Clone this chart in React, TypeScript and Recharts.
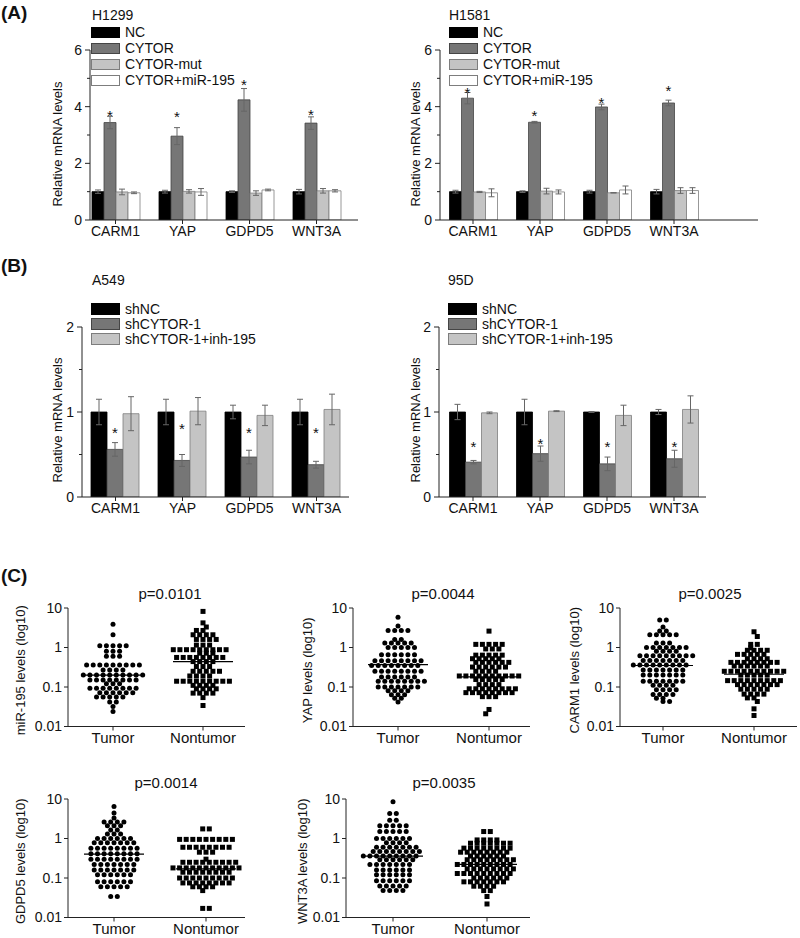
import React from 'react';
import {
  BarChart, Bar, XAxis, YAxis, ErrorBar, LabelList,
  ScatterChart, Scatter, ReferenceLine,
} from 'recharts';

const FONT = '"Liberation Sans", Arial, Helvetica, sans-serif';
const AXIS = '#222';
const TXT = '#111';

// ---------------- Panel A ----------------
const genes = ['CARM1', 'YAP', 'GDPD5', 'WNT3A'];

const h1299NC = [1, 1, 1, 1];
const h1299NCErr = [0.06, 0.05, 0.03, 0.08];
const h1299CYTOR = [3.44, 2.96, 4.24, 3.42];
const h1299CYTORErr = [0.22, 0.3, 0.4, 0.22];
const h1299Mut = [0.99, 1.01, 0.95, 1.03];
const h1299MutErr = [0.1, 0.06, 0.08, 0.08];
const h1299MiR = [0.96, 0.99, 1.06, 1.03];
const h1299MiRErr = [0.03, 0.12, 0.03, 0.04];
const h1299Star = [3.8, 3.75, 4.88, 3.82];

const h1581NC = [1, 1, 1, 1];
const h1581NCErr = [0.05, 0.03, 0.05, 0.08];
const h1581CYTOR = [4.3, 3.45, 3.99, 4.13];
const h1581CYTORErr = [0.2, 0.03, 0.1, 0.1];
const h1581Mut = [0.99, 1.02, 0.96, 1.04];
const h1581MutErr = [0.02, 0.1, 0.005, 0.1];
const h1581MiR = [0.96, 0.99, 1.06, 1.04];
const h1581MiRErr = [0.14, 0.07, 0.14, 0.1];
const h1581Star = [4.6, 3.78, 4.27, 4.68];

const legendA = ['NC', 'CYTOR', 'CYTOR-mut', 'CYTOR+miR-195'];

// ---------------- Panel B ----------------
const a549NC = [1, 1, 1, 1];
const a549NCErr = [0.15, 0.15, 0.08, 0.15];
const a549Sh = [0.56, 0.43, 0.47, 0.38];
const a549ShErr = [0.08, 0.07, 0.08, 0.04];
const a549Inh = [0.98, 1.01, 0.96, 1.03];
const a549InhErr = [0.2, 0.16, 0.12, 0.18];
const a549Star = [0.79, 0.84, 0.8, 0.8];

const d95NC = [1, 1, 1, 1];
const d95NCErr = [0.09, 0.15, 0.005, 0.03];
const d95Sh = [0.41, 0.51, 0.39, 0.45];
const d95ShErr = [0.02, 0.09, 0.08, 0.1];
const d95Inh = [0.99, 1.01, 0.96, 1.03];
const d95InhErr = [0.01, 0.005, 0.12, 0.16];
const d95Star = [0.63, 0.66, 0.63, 0.63];

const legendB = ['shNC', 'shCYTOR-1', 'shCYTOR-1+inh-195'];

// ---------------- Panel C ----------------
const groupNames = ['Tumor', 'Nontumor'];

const mirTumor = [
  3.9, 2.1,
  1.1, 1.1, 1.1, 1.1, 1.1,
  0.8, 0.8, 0.8,
  0.6, 0.6, 0.6,
  0.36, 0.36, 0.36, 0.36, 0.36, 0.36, 0.36, 0.36, 0.36,
  0.27, 0.27, 0.27, 0.27,
  0.2, 0.2, 0.2, 0.2, 0.2, 0.2, 0.2, 0.2, 0.2, 0.2,
  0.15, 0.15, 0.15, 0.15, 0.15, 0.15, 0.15, 0.15,
  0.12, 0.12, 0.12,
  0.093, 0.093, 0.093, 0.093, 0.093, 0.093, 0.093, 0.093,
  0.072, 0.072, 0.072, 0.072, 0.072, 0.072,
  0.056, 0.056, 0.056, 0.056, 0.056,
  0.042, 0.042,
  0.032, 0.024,
];
const mirNontumor = [
  8.2, 4.2, 3.3,
  2.7, 2.7,
  2.1, 2.1, 2.1, 2.1,
  1.6, 1.6, 1.6, 1.6,
  1.15, 1.15, 1.15,
  0.88, 0.88, 0.88, 0.88, 0.88, 0.88, 0.88, 0.88, 0.88,
  0.72, 0.72, 0.72,
  0.56, 0.56, 0.56, 0.56, 0.56, 0.56, 0.56, 0.56,
  0.44, 0.44, 0.44, 0.44,
  0.33, 0.33, 0.33,
  0.25, 0.25, 0.25, 0.25, 0.25,
  0.19, 0.19, 0.19, 0.19,
  0.14, 0.14, 0.14, 0.14, 0.14, 0.14, 0.14, 0.14, 0.14,
  0.11, 0.11, 0.11, 0.11,
  0.09, 0.09, 0.09, 0.09,
  0.07, 0.07, 0.07, 0.07,
  0.054, 0.034,
];
const mirMedians = [0.2, 0.44];

const yapTumor = [
  5.8, 3.5,
  2.7, 2.7, 2.7, 2.7,
  1.6, 1.6,
  1.3, 1.3, 1.3, 1.3, 1.3,
  1.0, 1.0, 1.0, 1.0, 1.0,
  0.66, 0.66, 0.66, 0.66, 0.66, 0.66,
  0.46, 0.46, 0.46, 0.46, 0.46, 0.46, 0.46, 0.46,
  0.35, 0.35, 0.35, 0.35, 0.35, 0.35, 0.35, 0.35,
  0.25, 0.25, 0.25, 0.25, 0.25, 0.25, 0.25, 0.25,
  0.18, 0.18, 0.18, 0.18, 0.18, 0.18,
  0.14, 0.14, 0.14, 0.14, 0.14, 0.14, 0.14, 0.14,
  0.1, 0.1, 0.1, 0.1, 0.1, 0.1, 0.1,
  0.08, 0.08, 0.08, 0.08,
  0.064, 0.064, 0.064,
  0.052, 0.052,
  0.042,
];
const yapNontumor = [
  2.6,
  1.2, 1.2, 1.2, 1.2, 1.2,
  0.92, 0.92, 0.92,
  0.64, 0.64, 0.64, 0.64, 0.64,
  0.52, 0.52, 0.52, 0.52, 0.52,
  0.42, 0.42, 0.42, 0.42, 0.42, 0.42,
  0.32, 0.32, 0.32, 0.32, 0.32, 0.32,
  0.25, 0.25, 0.25, 0.25,
  0.19, 0.19, 0.19, 0.19, 0.19, 0.19, 0.19, 0.19, 0.19, 0.19,
  0.155, 0.155, 0.155, 0.155, 0.155,
  0.115, 0.115, 0.115, 0.115,
  0.09, 0.09, 0.09, 0.09, 0.09, 0.09, 0.09, 0.09,
  0.072, 0.072, 0.072, 0.072, 0.072, 0.072, 0.072, 0.072,
  0.057, 0.057, 0.057,
  0.027, 0.021,
];
const yapMedians = [0.37, 0.18];

const carmTumor = [
  5.0, 5.0, 3.3,
  2.6, 2.6,
  2.1, 2.1, 2.1, 2.1, 2.1,
  1.3, 1.3, 1.3,
  1.0, 1.0, 1.0, 1.0, 1.0, 1.0, 1.0,
  0.8, 0.8, 0.8, 0.8,
  0.62, 0.62, 0.62, 0.62, 0.62, 0.62, 0.62, 0.62, 0.62,
  0.47, 0.47, 0.47, 0.47, 0.47, 0.47, 0.47,
  0.36, 0.36, 0.36, 0.36, 0.36, 0.36, 0.36, 0.36, 0.36,
  0.27, 0.27, 0.27, 0.27, 0.27, 0.27, 0.27,
  0.2, 0.2, 0.2, 0.2, 0.2, 0.2, 0.2,
  0.14, 0.14, 0.14, 0.14, 0.14, 0.14, 0.14,
  0.11, 0.11, 0.11, 0.11,
  0.085, 0.085, 0.085, 0.085,
  0.065, 0.065, 0.065, 0.065,
  0.052, 0.052,
  0.043, 0.043,
];
const carmNontumor = [
  2.5, 1.9,
  1.2, 1.2,
  0.98,
  0.85, 0.85, 0.85, 0.85,
  0.67, 0.67, 0.67, 0.67, 0.67,
  0.52, 0.52, 0.52, 0.52,
  0.42, 0.42, 0.42, 0.42, 0.42, 0.42, 0.42, 0.42,
  0.34, 0.34, 0.34, 0.34, 0.34, 0.34,
  0.25, 0.25, 0.25, 0.25, 0.25, 0.25, 0.25, 0.25, 0.25, 0.25,
  0.2, 0.2, 0.2, 0.2, 0.2,
  0.145, 0.145, 0.145, 0.145, 0.145, 0.145, 0.145, 0.145, 0.145,
  0.115, 0.115, 0.115, 0.115, 0.115, 0.115, 0.115,
  0.088, 0.088, 0.088, 0.088, 0.088,
  0.066, 0.066, 0.066, 0.066,
  0.053, 0.053,
  0.043, 0.028, 0.019,
];
const carmMedians = [0.35, 0.21];

const gdpTumor = [
  6.5, 4.4, 3.3,
  2.6, 2.6, 2.6, 2.6,
  2.1, 2.1, 2.1,
  1.65, 1.65,
  1.3, 1.3, 1.3,
  1.0, 1.0, 1.0, 1.0, 1.0, 1.0,
  0.78, 0.78, 0.78, 0.78, 0.78, 0.78, 0.78,
  0.57, 0.57, 0.57, 0.57, 0.57, 0.57, 0.57, 0.57,
  0.41, 0.41, 0.41, 0.41, 0.41, 0.41, 0.41, 0.41,
  0.3, 0.3, 0.3, 0.3, 0.3, 0.3, 0.3, 0.3,
  0.22, 0.22, 0.22, 0.22, 0.22, 0.22, 0.22,
  0.16, 0.16, 0.16, 0.16, 0.16, 0.16, 0.16,
  0.12, 0.12, 0.12, 0.12, 0.12, 0.12,
  0.08, 0.08, 0.08, 0.08, 0.08, 0.08,
  0.06, 0.06, 0.06, 0.06, 0.06,
  0.034, 0.034,
];
const gdpNontumor = [
  1.75, 1.75,
  0.95, 0.95, 0.95, 0.95, 0.95, 0.95, 0.95, 0.95, 0.95,
  0.6, 0.6, 0.6, 0.6, 0.6, 0.6, 0.6, 0.6,
  0.45, 0.45, 0.45,
  0.3,
  0.25, 0.25, 0.25, 0.25, 0.25, 0.25, 0.25, 0.25, 0.25,
  0.18, 0.18, 0.18, 0.18, 0.18, 0.18, 0.18, 0.18, 0.18, 0.18, 0.18,
  0.14, 0.14, 0.14, 0.14, 0.14, 0.14, 0.14, 0.14,
  0.1, 0.1, 0.1, 0.1, 0.1, 0.1, 0.1, 0.1, 0.1,
  0.075, 0.075, 0.075, 0.075, 0.075, 0.075, 0.075, 0.075,
  0.06, 0.06, 0.06, 0.06,
  0.048,
  0.017, 0.017,
];
const gdpMedians = [0.4, 0.17];

const wntTumor = [
  8.5,
  4.3, 4.3,
  2.9, 2.9,
  2.1, 2.1, 2.1, 2.1, 2.1,
  1.5, 1.5, 1.5, 1.5, 1.5,
  1.0, 1.0, 1.0, 1.0, 1.0, 1.0,
  0.78, 0.78, 0.78, 0.78,
  0.6, 0.6, 0.6, 0.6, 0.6, 0.6, 0.6,
  0.47, 0.47, 0.47, 0.47, 0.47, 0.47, 0.47, 0.47,
  0.36, 0.36, 0.36, 0.36, 0.36, 0.36, 0.36, 0.36, 0.36,
  0.29, 0.29, 0.29, 0.29, 0.29, 0.29,
  0.22, 0.22, 0.22, 0.22, 0.22, 0.22, 0.22,
  0.16, 0.16, 0.16, 0.16, 0.16, 0.16,
  0.12, 0.12, 0.12, 0.12, 0.12, 0.12,
  0.085, 0.085, 0.085, 0.085, 0.085, 0.085,
  0.063, 0.063, 0.063, 0.063, 0.063,
  0.048, 0.048, 0.048, 0.048,
];
const wntNontumor = [
  1.5, 1.5,
  0.92, 0.92, 0.92, 0.92,
  0.76, 0.76, 0.76, 0.76, 0.76, 0.76, 0.76,
  0.57, 0.57, 0.57, 0.57, 0.57, 0.57, 0.57, 0.57,
  0.45, 0.45, 0.45, 0.45, 0.45, 0.45, 0.45, 0.45,
  0.36, 0.36, 0.36, 0.36, 0.36, 0.36,
  0.29, 0.29, 0.29, 0.29, 0.29, 0.29, 0.29, 0.29,
  0.22, 0.22, 0.22, 0.22, 0.22, 0.22, 0.22, 0.22, 0.22,
  0.17, 0.17, 0.17, 0.17, 0.17, 0.17, 0.17, 0.17,
  0.13, 0.13, 0.13, 0.13, 0.13, 0.13, 0.13, 0.13, 0.13,
  0.1, 0.1, 0.1, 0.1, 0.1, 0.1,
  0.08, 0.08, 0.08, 0.08, 0.08, 0.08, 0.08,
  0.062, 0.062, 0.062, 0.062,
  0.048, 0.048,
  0.034, 0.022,
];
const wntMedians = [0.36, 0.22];

const logTicks = [0.01, 0.1, 1, 10];

// ---------------- helpers ----------------
type Series = { name: string; fill: string; stroke: string; values: number[]; errs: number[] };

function Txt(p: { x: number; cy: number; size: number; bold?: boolean; center?: boolean; children: React.ReactNode }) {
  return (
    <div
      style={{
        position: 'absolute', left: p.x, top: p.cy - 0.49 * p.size, fontSize: p.size, lineHeight: 1,
        fontFamily: FONT, fontWeight: p.bold ? 700 : 400, color: TXT, whiteSpace: 'nowrap',
        transform: p.center ? 'translateX(-50%)' : undefined,
      }}
    >
      {p.children}
    </div>
  );
}

function Legend(p: { x: number; y0: number; pitch: number; swH: number; series: Series[] }) {
  return (
    <>
      {p.series.map((s, i) => {
        const cy = p.y0 + i * p.pitch;
        return (
          <React.Fragment key={s.name}>
            <div
              style={{
                position: 'absolute', left: p.x, top: cy - p.swH / 2, width: 29, height: p.swH,
                background: s.fill, border: `1px solid ${s.stroke}`, boxSizing: 'border-box',
              }}
            />
            <Txt x={p.x + 34} cy={cy} size={14}>{s.name}</Txt>
          </React.Fragment>
        );
      })}
    </>
  );
}

const TICK_SIZE = 5;
const TICK_MARGIN = 3;

function makeYTick(isMajor: (v: number) => boolean) {
  return (p: any) => {
    const v = p.payload.value;
    const ax = p.x + TICK_SIZE + TICK_MARGIN;
    const major = isMajor(v);
    return (
      <g>
        <line x1={ax} x2={ax - (major ? 5 : 3)} y1={p.y} y2={p.y} stroke={AXIS} strokeWidth={1} />
        {major && (
          <text x={p.x} y={p.y} textAnchor="end" dominantBaseline="central" fontSize={14} fill={TXT} fontFamily={FONT}>
            {String(v)}
          </text>
        )}
      </g>
    );
  };
}

function makeYLabel(text: string, offset: number, dy: number, size: number) {
  return (p: any) => {
    const vb = p.viewBox;
    const cx = vb.x + offset;
    const cy = vb.y + vb.height / 2 + dy;
    return (
      <text
        x={cx} y={cy} transform={`rotate(-90 ${cx} ${cy})`} textAnchor="middle" dominantBaseline="central"
        fontSize={size} fill={TXT} fontFamily={FONT}
      >
        {text}
      </text>
    );
  };
}

const renderStar = (p: any) => {
  const vb = p.viewBox || p;
  const ratio = Number(p.value);
  if (!vb || !isFinite(ratio)) return null;
  const sy = vb.y + vb.height - ratio * vb.height;
  return (
    <text x={vb.x + vb.width / 2} y={sy + 8.5} textAnchor="middle" fontSize={15} fill={TXT} fontFamily={FONT}>
      *
    </text>
  );
};

function BarPanel(p: {
  left: number; top: number; width: number; height: number;
  axisX: number; endX: number; plotTop: number; plotBottom: number; firstCenter: number; spacing: number;
  yMax: number; yTicks: number[]; isMajor: (v: number) => boolean;
  series: Series[]; starSeries: number; stars: number[]; barSize: number; labelX: number; labelDy: number;
}) {
  const margin = { top: p.plotTop - p.top, right: p.left + p.width - p.endX, bottom: p.top + p.height - p.plotBottom - 30, left: 0 };
  const d0 = 1 - (p.firstCenter - p.axisX) / p.spacing;
  const d1 = 1 + (p.endX - p.firstCenter) / p.spacing;
  const data = genes.map((g, i) => {
    const row: any = { pos: i + 1, gene: g };
    p.series.forEach((s, k) => {
      row['v' + k] = s.values[i];
      row['e' + k] = s.errs[i];
    });
    row.starRatio = p.stars[i] / p.series[p.starSeries].values[i];
    return row;
  });
  return (
    <div style={{ position: 'absolute', left: p.left, top: p.top }}>
      <BarChart width={p.width} height={p.height} data={data} margin={margin} barGap={0}>
        <XAxis
          type="number" dataKey="pos" domain={[d0, d1]} allowDataOverflow ticks={[1, 2, 3, 4]} interval={0}
          tickFormatter={(v: number) => genes[Math.round(v) - 1] ?? ''} height={30} tickSize={4} tickMargin={2}
          axisLine={{ stroke: AXIS }} tickLine={{ stroke: AXIS }}
          tick={{ fontSize: 14, fill: TXT, fontFamily: FONT }}
        />
        <YAxis
          type="number" domain={[0, p.yMax]} allowDataOverflow ticks={p.yTicks} interval={0}
          width={p.axisX - p.left} tickSize={TICK_SIZE} tickMargin={TICK_MARGIN}
          axisLine={{ stroke: AXIS }} tickLine={false} tick={makeYTick(p.isMajor)}
          label={makeYLabel('Relative mRNA levels', p.labelX - p.left, p.labelDy, 13)}
        />
        {p.series.map((s, k) => (
          <Bar
            key={s.name} dataKey={'v' + k} name={s.name} fill={s.fill} stroke={s.stroke} strokeWidth={0.8}
            barSize={p.barSize} isAnimationActive={false}
          >
            <ErrorBar dataKey={'e' + k} width={3} stroke="#666" strokeWidth={1} direction="y" />
            {k === p.starSeries && <LabelList dataKey="starRatio" content={renderStar} />}
          </Bar>
        ))}
      </BarChart>
    </div>
  );
}

// deterministic swarm layout: equal values share a row, centred; a row is nudged
// half a step sideways only when it would overlap the row just above it
function beeswarm(values: number[], center: number, unitPx: number, decadePx: number) {
  const step = 6.6;
  const dmin = 4.8;
  const counts = new Map<number, number>();
  values.forEach((v) => counts.set(v, (counts.get(v) || 0) + 1));
  const rows = Array.from(counts.entries()).sort((a, b) => b[0] - a[0]);
  const placed: { px: number; py: number }[] = [];
  const out: { x: number; y: number }[] = [];
  let flip = 1;
  for (const [v, n] of rows) {
    const py = -Math.log10(v) * decadePx;
    const base = Array.from({ length: n }, (_, i) => (i - (n - 1) / 2) * step);
    const minDist = (cand: number) => {
      let m = Infinity;
      base.forEach((bx) => placed.forEach((q) => { m = Math.min(m, Math.hypot(q.px - (bx + cand), q.py - py)); }));
      return m;
    };
    let shift = 0;
    if (minDist(0) < dmin) {
      const a = flip * step / 2;
      const b = -a;
      shift = minDist(a) >= minDist(b) ? a : b;
      flip = -flip;
    }
    base.forEach((bx) => {
      placed.push({ px: bx + shift, py });
      out.push({ x: center + (bx + shift) / unitPx, y: v });
    });
  }
  return out;
}

const circleShape = (p: any) => <circle cx={p.cx} cy={p.cy} r={2.5} fill="#000" />;
const squareShape = (p: any) => <rect x={p.cx - 2.5} y={p.cy - 2.5} width={5} height={5} fill="#000" />;

function ScatterPanel(p: {
  left: number; top: number; width: number;
  axisX: number; endX: number; tumorX: number; nontX: number; y10: number; y001: number;
  tumor: number[]; nontumor: number[]; medians: number[]; ylabel: string; labelX: number;
}) {
  const unitPx = p.nontX - p.tumorX;
  const d0 = 1 - (p.tumorX - p.axisX) / unitPx;
  const d1 = 2 + (p.endX - p.nontX) / unitPx;
  const decadePx = (p.y001 - p.y10) / 3;
  const tPts = beeswarm(p.tumor, 1, unitPx, decadePx);
  const nPts = beeswarm(p.nontumor, 2, unitPx, decadePx);
  const hw = 30 / unitPx;
  const height = Math.round(p.y001 - p.top + 25);
  const margin = { top: p.y10 - p.top, right: p.left + p.width - p.endX, bottom: height - (p.y001 - p.top) - 25, left: 0 };
  return (
    <div style={{ position: 'absolute', left: p.left, top: p.top }}>
      <ScatterChart width={p.width} height={height} margin={margin}>
        <XAxis
          type="number" dataKey="x" domain={[d0, d1]} allowDataOverflow ticks={[1, 2]} interval={0}
          tickFormatter={(v: number) => groupNames[Math.round(v) - 1] ?? ''} height={25} tickSize={4} tickMargin={2}
          axisLine={{ stroke: AXIS }} tickLine={{ stroke: AXIS }}
          tick={{ fontSize: 15, fill: TXT, fontFamily: FONT }}
        />
        <YAxis
          type="number" dataKey="y" scale="log" domain={[0.01, 10]} allowDataOverflow ticks={logTicks} interval={0}
          width={p.axisX - p.left} tickSize={4} tickMargin={2}
          axisLine={{ stroke: AXIS }} tickLine={{ stroke: AXIS }}
          tickFormatter={(v: number) => String(v)}
          tick={{ fontSize: 14, fill: TXT, fontFamily: FONT }}
          label={makeYLabel(p.ylabel, p.labelX - p.left, 3, 13)}
        />
        <Scatter data={tPts} shape={circleShape} isAnimationActive={false} />
        <Scatter data={nPts} shape={squareShape} isAnimationActive={false} />
        <ReferenceLine segment={[{ x: 1 - hw, y: p.medians[0] }, { x: 1 + hw, y: p.medians[0] }]} stroke="#000" strokeWidth={1.2} />
        <ReferenceLine segment={[{ x: 2 - hw, y: p.medians[1] }, { x: 2 + hw, y: p.medians[1] }]} stroke="#000" strokeWidth={1.2} />
      </ScatterChart>
    </div>
  );
}

// ---------------- series definitions ----------------
const colA = [
  { fill: '#000', stroke: '#000' },
  { fill: '#767676', stroke: '#454545' },
  { fill: '#c4c4c4', stroke: '#7d7d7d' },
  { fill: '#fff', stroke: '#7d7d7d' },
];

const seriesH1299: Series[] = [
  { name: legendA[0], ...colA[0], values: h1299NC, errs: h1299NCErr },
  { name: legendA[1], ...colA[1], values: h1299CYTOR, errs: h1299CYTORErr },
  { name: legendA[2], ...colA[2], values: h1299Mut, errs: h1299MutErr },
  { name: legendA[3], ...colA[3], values: h1299MiR, errs: h1299MiRErr },
];
const seriesH1581: Series[] = [
  { name: legendA[0], ...colA[0], values: h1581NC, errs: h1581NCErr },
  { name: legendA[1], ...colA[1], values: h1581CYTOR, errs: h1581CYTORErr },
  { name: legendA[2], ...colA[2], values: h1581Mut, errs: h1581MutErr },
  { name: legendA[3], ...colA[3], values: h1581MiR, errs: h1581MiRErr },
];
const seriesA549: Series[] = [
  { name: legendB[0], ...colA[0], values: a549NC, errs: a549NCErr },
  { name: legendB[1], ...colA[1], values: a549Sh, errs: a549ShErr },
  { name: legendB[2], ...colA[2], values: a549Inh, errs: a549InhErr },
];
const series95D: Series[] = [
  { name: legendB[0], ...colA[0], values: d95NC, errs: d95NCErr },
  { name: legendB[1], ...colA[1], values: d95Sh, errs: d95ShErr },
  { name: legendB[2], ...colA[2], values: d95Inh, errs: d95InhErr },
];

const ticksA = [0, 1, 2, 3, 4, 5, 6];
const ticksB = [0, 0.5, 1, 1.5, 2];
const majorA = (v: number) => v % 2 === 0;
const majorB = (v: number) => Number.isInteger(v);

export default function App() {
  return (
    <div style={{ position: 'absolute', left: 0, top: 0, width: 800, height: 938, background: '#fff', overflow: 'hidden' }}>
      {/* Panel A */}
      <Txt x={1} cy={12} size={19} bold>(A)</Txt>
      <BarPanel
        left={0} top={0} width={400} height={250} axisX={90} endX={358} plotTop={50} plotBottom={220}
        firstCenter={115.5} spacing={67} yMax={6} yTicks={ticksA} isMajor={majorA}
        series={seriesH1299} starSeries={1} stars={h1299Star} barSize={12} labelX={57} labelDy={9}
      />
      <Txt x={92} cy={15} size={14}>H1299</Txt>
      <Legend x={91} y0={32} pitch={16} swH={11} series={seriesH1299} />

      <BarPanel
        left={400} top={0} width={400} height={250} axisX={440} endX={758} plotTop={50} plotBottom={220}
        firstCenter={473} spacing={67} yMax={6} yTicks={ticksA} isMajor={majorA}
        series={seriesH1581} starSeries={1} stars={h1581Star} barSize={12} labelX={415} labelDy={9}
      />
      <Txt x={449} cy={15} size={14}>H1581</Txt>
      <Legend x={449} y0={32} pitch={16} swH={11} series={seriesH1581} />

      {/* Panel B */}
      <Txt x={1} cy={265} size={19} bold>(B)</Txt>
      <BarPanel
        left={0} top={250} width={400} height={277} axisX={82} endX={349} plotTop={327} plotBottom={497}
        firstCenter={115.5} spacing={67} yMax={2} yTicks={ticksB} isMajor={majorB}
        series={seriesA549} starSeries={1} stars={a549Star} barSize={16} labelX={57} labelDy={8}
      />
      <Txt x={92} cy={280} size={14}>A549</Txt>
      <Legend x={91} y0={309} pitch={15} swH={12} series={seriesA549} />

      <BarPanel
        left={400} top={250} width={400} height={277} axisX={439} endX={706} plotTop={327} plotBottom={497}
        firstCenter={473} spacing={67} yMax={2} yTicks={ticksB} isMajor={majorB}
        series={series95D} starSeries={1} stars={d95Star} barSize={16} labelX={415} labelDy={8}
      />
      <Txt x={448} cy={280} size={14}>95D</Txt>
      <Legend x={448} y0={309} pitch={15} swH={12} series={series95D} />

      {/* Panel C */}
      <Txt x={1} cy={575} size={19} bold>(C)</Txt>

      <Txt x={170} cy={593} size={15} center>p=0.0101</Txt>
      <ScatterPanel
        left={0} top={590} width={260} axisX={68} endX={245} tumorX={113} nontX={203} y10={608} y001={726.5}
        tumor={mirTumor} nontumor={mirNontumor} medians={mirMedians} ylabel="miR-195 levels (log10)" labelX={20}
      />

      <Txt x={443} cy={593} size={15} center>p=0.0044</Txt>
      <ScatterPanel
        left={270} top={590} width={270} axisX={353} endX={530} tumorX={398} nontX={489} y10={608} y001={726.5}
        tumor={yapTumor} nontumor={yapNontumor} medians={yapMedians} ylabel="YAP levels (log10)" labelX={307}
      />

      <Txt x={710} cy={593} size={15} center>p=0.0025</Txt>
      <ScatterPanel
        left={530} top={590} width={270} axisX={620} endX={797} tumorX={663} nontX={754} y10={608} y001={726.5}
        tumor={carmTumor} nontumor={carmNontumor} medians={carmMedians} ylabel="CARM1 levels (log10)" labelX={574}
      />

      <Txt x={166} cy={782} size={15} center>p=0.0014</Txt>
      <ScatterPanel
        left={0} top={780} width={260} axisX={68} endX={245} tumorX={114} nontX={206} y10={799} y001={917.5}
        tumor={gdpTumor} nontumor={gdpNontumor} medians={gdpMedians} ylabel="GDPD5 levels (log10)" labelX={20}
      />

      <Txt x={444} cy={782} size={15} center>p=0.0035</Txt>
      <ScatterPanel
        left={270} top={780} width={270} axisX={346} endX={530} tumorX={393} nontX={487} y10={799} y001={917.5}
        tumor={wntTumor} nontumor={wntNontumor} medians={wntMedians} ylabel="WNT3A levels (log10)" labelX={302}
      />
    </div>
  );
}
